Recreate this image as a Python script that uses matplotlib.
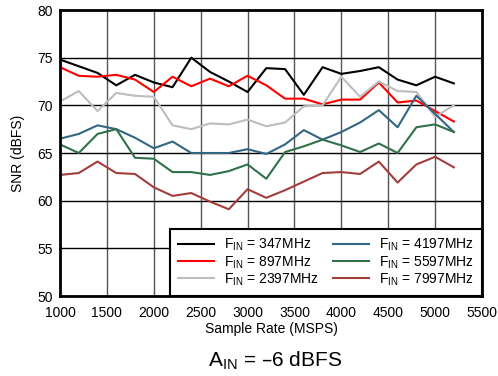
import matplotlib
matplotlib.use("Agg")
import matplotlib.pyplot as plt

# ----------------------------------------------------------------------------
# Data
# ----------------------------------------------------------------------------
sample_rate = [1000, 1200, 1400, 1600, 1800, 2000, 2200, 2400, 2600, 2800, 3000,
               3200, 3400, 3600, 3800, 4000, 4200, 4400, 4600, 4800, 5000, 5200]

snr_347 = [74.8, 74.1, 73.4, 72.1, 73.2, 72.4, 71.9, 75.0, 73.5, 72.5, 71.4,
           73.9, 73.8, 71.1, 74.0, 73.3, 73.6, 74.0, 72.7, 72.1, 73.0, 72.3]
snr_897 = [74.0, 73.1, 73.0, 73.2, 72.7, 71.4, 73.0, 72.0, 72.8, 72.0, 73.1,
           72.1, 70.7, 70.7, 70.1, 70.6, 70.6, 72.4, 70.3, 70.5, 69.4, 68.3]
snr_2397 = [70.4, 71.5, 69.4, 71.3, 71.0, 70.9, 67.9, 67.5, 68.1, 68.0, 68.5,
            67.8, 68.2, 69.9, 70.0, 73.0, 70.9, 72.5, 71.5, 71.4, 68.8, 70.0]
snr_4197 = [66.5, 67.0, 67.9, 67.5, 66.6, 65.5, 66.2, 65.0, 65.0, 65.0, 65.4,
            64.9, 65.9, 67.4, 66.4, 67.2, 68.2, 69.5, 67.7, 71.0, 69.1, 67.2]
snr_5597 = [65.9, 65.0, 67.0, 67.5, 64.5, 64.4, 63.0, 63.0, 62.7, 63.1, 63.8,
            62.3, 65.1, 65.7, 66.4, 65.8, 65.1, 66.0, 65.0, 67.7, 68.0, 67.2]
snr_7997 = [62.7, 62.9, 64.1, 62.9, 62.8, 61.4, 60.5, 60.8, 59.9, 59.1, 61.2,
            60.3, 61.1, 62.0, 62.9, 63.0, 62.8, 64.1, 61.9, 63.8, 64.6, 63.5]

series = [
    (snr_347, "347MHz", "black"),
    (snr_897, "897MHz", "#ff0000"),
    (snr_2397, "2397MHz", "#bdbdbd"),
    (snr_4197, "4197MHz", "#336683"),
    (snr_5597, "5597MHz", "#2f7249"),
    (snr_7997, "7997MHz", "#a33d3d"),
]

x_ticks = [1000, 1500, 2000, 2500, 3000, 3500, 4000, 4500, 5000, 5500]
y_ticks = [50, 55, 60, 65, 70, 75, 80]

# ----------------------------------------------------------------------------
# Plot
# ----------------------------------------------------------------------------
plt.rcParams["font.family"] = ["Liberation Sans", "DejaVu Sans"]
plt.rcParams["mathtext.default"] = "regular"

fig = plt.figure(figsize=(4.98, 3.76), dpi=100)
ax = fig.add_axes([60 / 498, 1 - 296 / 376, 422 / 498, 286 / 376])

for vals, name, color in series:
    ax.plot(sample_rate, vals, color=color, lw=1.5,
            label=r"F$_{IN}$ = " + name)

ax.set_xlim(1000, 5500)
ax.set_ylim(50, 80)
ax.set_xticks(x_ticks)
ax.set_yticks(y_ticks)
ax.tick_params(length=0, labelsize=10)
ax.tick_params(axis="y", pad=5)
ax.tick_params(axis="x", pad=7)
ax.xaxis.grid(True, color="#555555", lw=1)
ax.yaxis.grid(True, color="black", lw=1)
ax.set_axisbelow(True)
for sp in ax.spines.values():
    sp.set_linewidth(2)

ax.set_xlabel("Sample Rate (MSPS)", fontsize=10, labelpad=2)
ax.set_ylabel("SNR (dBFS)", fontsize=10, labelpad=9)

leg = ax.legend(ncol=2, loc="lower right", bbox_to_anchor=(1, 0),
                borderaxespad=0, fancybox=False, framealpha=1,
                edgecolor="black", fontsize=10, handlelength=2.6,
                labelspacing=0.05, columnspacing=1.0, handletextpad=0.7,
                borderpad=0.6)
leg.get_frame().set_linewidth(1.5)

fig.text(275 / 498, 1 - 361 / 376, r"A$_{IN}$ = –6 dBFS", fontsize=15,
         ha="center", va="center")

fig.savefig("out.png", dpi=100)
